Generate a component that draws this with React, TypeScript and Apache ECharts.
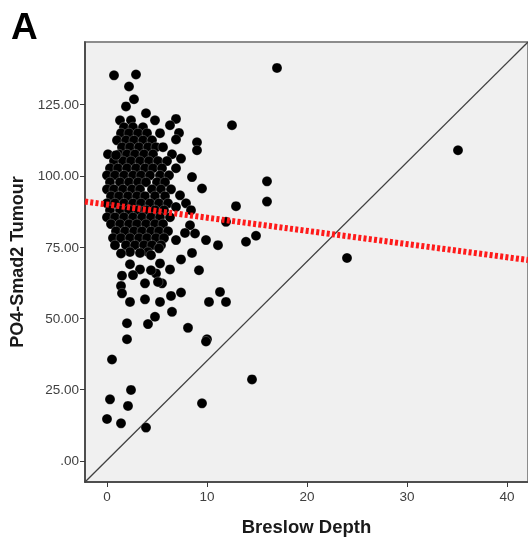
import React, { useEffect, useRef } from "react";
import * as echarts from "echarts";

const xTicks = [0, 10, 20, 30, 40];
const yTicks = [0, 25, 50, 75, 100, 125];
const xRange = [-2.2, 42.1];
const yRange = [-7.4, 147];
const fitLine = [
  [-2.2, 91.0],
  [42.1, 70.5],
];

// Breslow depth, PO4-Smad2 tumour (dense core of the cloud)
const corePoints = [
  [1.3, 119.5], [2.4, 119.5], [4.8, 119.5],
  [1.7, 117.1], [2.6, 117.1], [3.6, 117.1],
  [1.4, 115.0], [2.2, 115.0], [3.1, 115.0], [4.0, 115.0], [5.3, 115.0],
  [1.0, 112.5], [1.9, 112.5], [2.7, 112.5], [3.6, 112.5], [4.5, 112.5],
  [1.5, 110.1], [2.3, 110.1], [3.2, 110.1], [4.1, 110.1], [4.9, 110.1], [5.6, 110.1],
  [0.1, 107.6], [1.2, 107.6], [2.0, 107.6], [2.8, 107.6], [3.7, 107.6], [4.6, 107.6], [6.5, 107.6],
  [0.7, 105.2], [1.6, 105.2], [2.4, 105.2], [3.3, 105.2], [4.2, 105.2], [5.1, 105.2], [6.0, 105.2],
  [0.3, 102.7], [1.1, 102.7], [2.0, 102.7], [2.9, 102.7], [3.8, 102.7], [4.6, 102.7], [5.5, 102.7], [6.9, 102.7],
  [0.0, 100.2], [0.8, 100.2], [1.7, 100.2], [2.6, 100.2], [3.4, 100.2], [4.3, 100.2], [5.3, 100.2], [6.2, 100.2],
  [0.3, 97.8], [1.3, 97.8], [2.2, 97.8], [3.1, 97.8], [3.9, 97.8], [5.0, 97.8], [5.8, 97.8],
  [0.0, 95.3], [0.7, 95.3], [1.6, 95.3], [2.5, 95.3], [3.3, 95.3], [4.5, 95.3], [5.4, 95.3], [6.4, 95.3],
  [0.4, 92.9], [1.2, 92.9], [2.1, 92.9], [3.0, 92.9], [3.8, 92.9], [4.8, 92.9], [5.8, 92.9],
  [0.0, 90.4], [0.8, 90.4], [1.7, 90.4], [2.6, 90.4], [3.4, 90.4], [4.3, 90.4], [5.2, 90.4], [6.1, 90.4], [7.9, 90.4],
  [0.3, 88.0], [1.3, 88.0], [2.2, 88.0], [3.1, 88.0], [3.9, 88.0], [4.8, 88.0], [5.7, 88.0],
  [0.0, 85.5], [0.8, 85.5], [1.7, 85.5], [2.6, 85.5], [3.5, 85.5], [4.4, 85.5], [5.3, 85.5], [6.3, 85.5],
  [0.4, 83.1], [1.3, 83.1], [2.2, 83.1], [3.0, 83.1], [3.9, 83.1], [4.8, 83.1], [5.6, 83.1],
  [0.9, 80.6], [1.8, 80.6], [2.7, 80.6], [3.5, 80.6], [4.4, 80.6], [5.2, 80.6], [6.1, 80.6],
  [0.6, 78.2], [1.4, 78.2], [2.3, 78.2], [3.2, 78.2], [4.0, 78.2], [4.9, 78.2], [5.7, 78.2],
  [1.9, 75.7], [2.8, 75.7], [3.7, 75.7], [4.5, 75.7], [5.4, 75.7],
  [2.3, 73.3], [4.1, 73.3],
];

// Scattered points around the core
const outerPoints = [
  [0.7, 135.3], [2.9, 135.6], [2.2, 131.4], [2.7, 126.9], [1.9, 124.4], [3.9, 122.0],
  [6.9, 120.0], [6.3, 117.8], [12.5, 117.8], [17.0, 137.9], [7.2, 115.1], [6.9, 112.8],
  [9.0, 111.8], [9.0, 109.0], [0.9, 107.3], [7.4, 106.1], [8.5, 99.6], [9.5, 95.6],
  [7.3, 93.2], [12.9, 89.4], [11.9, 83.9], [14.9, 79.0], [13.9, 76.9], [11.1, 75.7],
  [9.9, 77.5], [8.5, 73.0], [8.8, 79.8], [8.3, 82.7], [6.9, 89.1], [6.9, 77.5],
  [16.0, 98.1], [16.0, 91.0], [35.1, 109.0], [24.0, 71.2], [8.4, 88.0], [7.8, 80.0],
  [7.4, 70.7], [9.2, 66.9], [6.3, 67.2], [5.5, 62.3], [7.4, 59.1], [6.4, 57.9],
  [11.3, 59.3], [10.2, 55.8], [11.9, 55.8], [6.5, 52.3], [8.1, 46.7], [10.0, 42.7],
  [0.8, 75.7], [1.4, 72.8], [3.3, 73.0], [4.4, 72.2], [5.2, 74.6], [2.3, 69.0],
  [3.3, 67.2], [5.3, 69.3], [1.5, 65.0], [2.6, 65.2], [4.9, 65.8], [3.8, 62.3],
  [1.4, 61.4], [1.5, 58.8], [2.3, 55.8], [3.8, 56.7], [5.3, 55.8], [4.8, 50.6],
  [4.1, 48.0], [2.0, 48.3], [2.0, 42.7], [0.5, 35.6], [2.4, 24.9], [0.3, 21.6],
  [2.1, 19.3], [0.0, 14.7], [1.4, 13.2], [3.9, 11.7], [9.5, 20.2], [14.5, 28.6],
  [9.9, 41.9], [4.4, 66.9], [5.1, 62.8],
];

export default function App() {
  const ref = useRef<HTMLDivElement>(null);
  useEffect(() => {
    if (!ref.current) return;
    const chart = echarts.init(ref.current, undefined, { renderer: "svg" });
    const font = "'Liberation Sans', Arial, sans-serif";
    chart.setOption({
      animation: false,
      graphic: [
        {
          type: "text",
          left: 11,
          top: 8,
          style: { text: "A", font: `bold 37px ${font}`, fill: "#000" },
        },
      ],
      grid: {
        left: 85,
        top: 42,
        right: 0,
        bottom: 64,
        show: true,
        backgroundColor: "#f0f0f0",
        borderColor: "#8c8c8c",
        borderWidth: 2,
      },
      xAxis: {
        type: "value",
        min: xRange[0],
        max: xRange[1],
        splitLine: { show: false },
        axisLine: { show: true, onZero: false, lineStyle: { color: "#3a3a3a", width: 1.5 } },
        axisTick: { show: true, customValues: xTicks, length: 5, lineStyle: { color: "#3a3a3a" } },
        axisLabel: {
          customValues: xTicks,
          color: "#404040",
          fontSize: 13.5,
          fontFamily: font,
          margin: 7,
        },
        name: "Breslow Depth",
        nameLocation: "middle",
        nameGap: 35,
        nameTextStyle: { fontWeight: "bold", fontSize: 18.5, color: "#1a1a1a", fontFamily: font },
      },
      yAxis: {
        type: "value",
        min: yRange[0],
        max: yRange[1],
        splitLine: { show: false },
        axisLine: { show: true, onZero: false, lineStyle: { color: "#3a3a3a", width: 1.5 } },
        axisTick: { show: true, customValues: yTicks, length: 5, lineStyle: { color: "#3a3a3a" } },
        axisLabel: {
          customValues: yTicks,
          color: "#404040",
          fontSize: 13.5,
          fontFamily: font,
          margin: 6,
          formatter: (v: number) => (v === 0 ? ".00" : v.toFixed(2)),
        },
        name: "PO4-Smad2 Tumour",
        nameLocation: "middle",
        nameGap: 59,
        nameTextStyle: { fontWeight: "bold", fontSize: 18, color: "#1a1a1a", fontFamily: font },
      },
      series: [
        {
          type: "line",
          data: [
            [xRange[0], yRange[0]],
            [xRange[1], yRange[1]],
          ],
          symbol: "none",
          lineStyle: { color: "#404040", width: 1.3 },
          z: 1,
        },
        {
          type: "scatter",
          data: [...corePoints, ...outerPoints],
          symbolSize: 10,
          itemStyle: { color: "#000", opacity: 1, borderColor: "rgba(255,255,255,0.6)", borderWidth: 0.4 },
          z: 2,
        },
        {
          type: "line",
          data: fitLine,
          symbol: "none",
          lineStyle: { color: "#ff1a1a", width: 6, type: [3, 2.3] },
          z: 3,
        },
      ],
    });
    return () => chart.dispose();
  }, []);
  return (
    <div
      ref={ref}
      style={{ position: "fixed", left: 0, top: 0, width: 528, height: 546 }}
    />
  );
}
